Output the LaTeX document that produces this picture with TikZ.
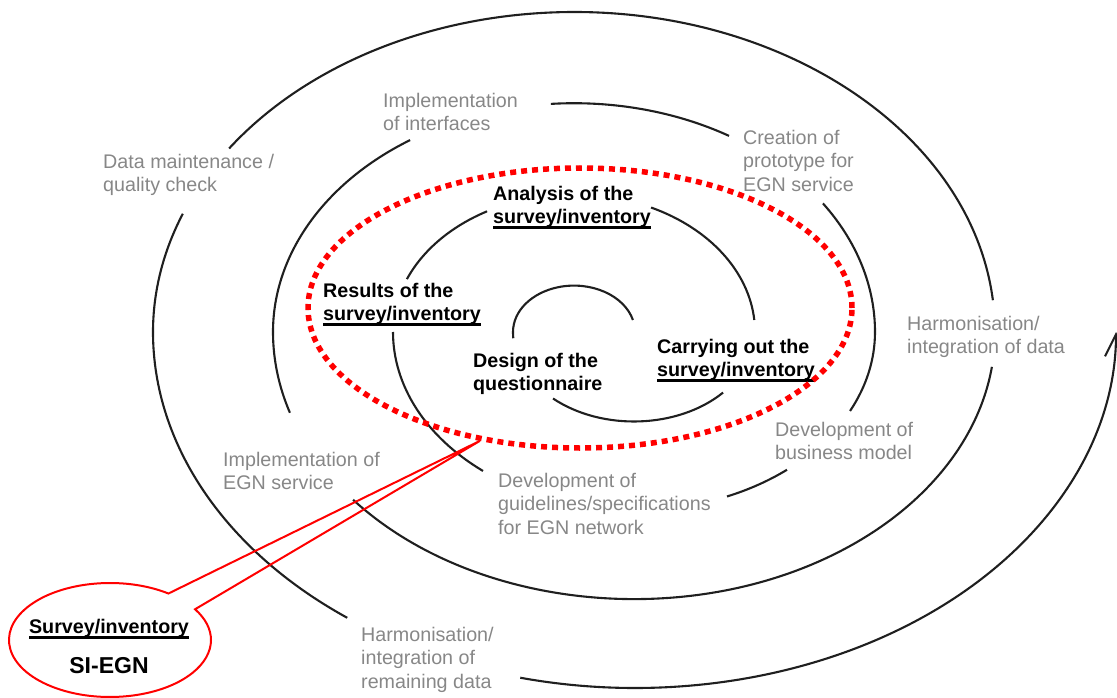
\documentclass[tikz,border=0pt]{standalone}
\usepackage{fontspec}
\setsansfont{Liberation Sans}
\usetikzlibrary{arrows.meta,shapes.geometric,shapes.callouts}
\definecolor{phasegray}{gray}{0.53}
\definecolor{spiralink}{gray}{0.12}
\newcommand{\thickul}[1]{\setbox0=\hbox{#1}\rlap{\rule[-5.5pt]{\wd0}{3.3pt}}\box0}

\begin{document}
\begin{tikzpicture}[x=1pt, y=-1pt, font=\sffamily\fontsize{19.7}{23.4}\selectfont,
        spiralarc/.style={draw=spiralink, line width=2.1pt},
        phase/.style={anchor=north west, inner sep=0pt, align=left, text=phasegray},
        activity/.style={anchor=north west, inner sep=0pt, align=left, font=\sffamily\bfseries\fontsize{19.7}{23.4}\selectfont}]
        \clip (0,0) rectangle (1117,698);
        \foreach \cx/\rx/\ry/\a/\b in {574/61/46.4/345/180, 634/121/89.5/180/176, 634/121/89.5/132/42.6,
                574/181/137.6/355/295.2, 574/181/137.6/241.3/202.6, 634/241/178.3/180/128.8,
                634/241/178.3/67.3/50.6, 634/241/178.3/26.3/0, 574/301/228.8/360/325.8,
                574/301/228.8/301/265.6, 574/301/228.8/237/180, 634/361/267.1/180/162.4,
                634/361/267.1/141.1/7.5, 574/421/320/354.3/215, 574/421/320/201.7/180,
                634/481/356/180/126.6}
            \draw[spiralarc] (\cx,332) ++({\rx*cos(\a)},{\ry*sin(\a)}) arc[start angle=\a, end angle=\b, x radius=\rx, y radius=\ry];
        \draw[spiralarc, -{Straight Barb[length=22pt, width=22pt]}] (635,332) ++({481*cos(103.8)},{356*sin(103.8)}) arc[start angle=103.8, end angle=0, x radius=481, y radius=356];

        \node[phase] (interfaces) at (383,93) {Implementation\\of interfaces};
        \node[phase] (maintenance) at (103,154) {Data maintenance /\\quality check};
        \node[phase] (prototype) at (743,130) {Creation of\\prototype for\\EGN service};
        \node[phase] (harmdata) at (907,316) {Harmonisation/\\integration of data};
        \node[phase] (business) at (775,422) {Development of\\business model};
        \node[phase] (guidelines) at (498,473) {Development of\\guidelines/specifications\\for EGN network};
        \node[phase] (egnservice) at (223,452) {Implementation of\\EGN service};
        \node[phase] (harmrest) at (361,627) {Harmonisation/\\integration of\\remaining data};

        \node[activity] (analysis) at (493,186) {Analysis of the\\\thickul{survey/inventory}};
        \node[activity] (results) at (323,283) {Results of the\\\thickul{survey/inventory}};
        \node[activity] (design) at (473,353) {Design of the\\questionnaire};
        \node[activity] (carrying) at (657,339) {Carrying out the\\\thickul{survey/inventory}};

        \node[ellipse, draw=red, line width=5.5pt, dash pattern=on 6pt off 5pt, minimum width=544, minimum height=280] (survey) at (580,308) {};
        \node[ellipse callout, draw=red, line width=2pt, minimum width=202, minimum height=114, inner sep=0pt,
            callout pointer arc=22, callout absolute pointer={(survey.233)}] (callout) at (110,640) {};
        \node[activity, anchor=north] (calltitle) at (109,619) {\thickul{Survey/inventory}};
        \node[activity, anchor=north, font=\sffamily\bfseries\fontsize{23}{27}\selectfont] (callname) at (109,657) {SI-EGN};
    \end{tikzpicture}
\end{document}
